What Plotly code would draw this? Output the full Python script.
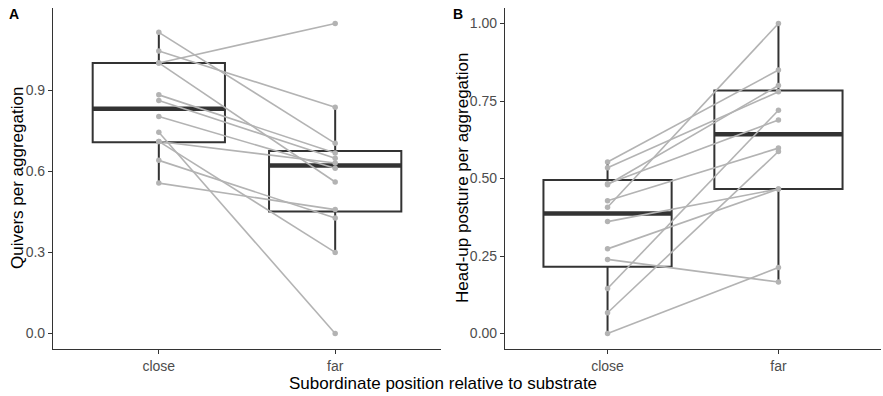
import plotly.graph_objects as go

# ---- data ----
categories = ["close", "far"]
cat_pos = [1, 2]

quiver_close = [1.0, 1.113, 1.044, 1.0, 0.882, 0.861, 0.802, 0.744, 0.71, 0.71, 0.64, 0.556]
quiver_far = [1.146, 0.703, 0.836, 0.56, 0.667, 0.648, 0.611, 0.0, 0.63, 0.30, 0.427, 0.458]

headup_close = [0.553, 0.535, 0.483, 0.48, 0.428, 0.407, 0.361, 0.273, 0.239, 0.145, 0.067, 0.0]
headup_far = [0.85, 0.78, 0.689, 0.80, 0.598, 1.0, 0.466, 0.466, 0.166, 0.72, 0.587, 0.213]

# box statistics (close, far)
quiver_q1 = [0.707, 0.451]
quiver_med = [0.831, 0.621]
quiver_q3 = [1.0, 0.675]
quiver_lo = [0.556, 0.30]
quiver_hi = [1.113, 0.836]

headup_q1 = [0.215, 0.466]
headup_med = [0.387, 0.643]
headup_q3 = [0.495, 0.784]
headup_lo = [0.0, 0.166]
headup_hi = [0.553, 1.0]

quiver_ticks = [0.0, 0.3, 0.6, 0.9]
quiver_ticklabels = ["0.0", "0.3", "0.6", "0.9"]
headup_ticks = [0.0, 0.25, 0.5, 0.75, 1.0]
headup_ticklabels = ["0.00", "0.25", "0.50", "0.75", "1.00"]

BOX_W = 0.75
DARK = "#333333"
GREY = "#b3b3b3"
FONT = "Liberation Sans, Arial, sans-serif"

fig = go.Figure()


def add_panel(xa, ya, close, far, q1, med, q3, lo, hi):
    for i, pos in enumerate(cat_pos):
        fig.add_trace(go.Box(
            x=[pos], q1=[q1[i]], median=[med[i]], q3=[q3[i]],
            lowerfence=[lo[i]], upperfence=[hi[i]],
            width=BOX_W, whiskerwidth=0,
            line=dict(color=DARK, width=2), fillcolor="white",
            boxpoints=False, showlegend=False, hoverinfo="skip",
            xaxis=xa, yaxis=ya))
        # thick median
        fig.add_trace(go.Scatter(
            x=[pos - BOX_W / 2, pos + BOX_W / 2], y=[med[i], med[i]],
            mode="lines", line=dict(color=DARK, width=4.5),
            showlegend=False, hoverinfo="skip", xaxis=xa, yaxis=ya))
    for c, f in zip(close, far):
        fig.add_trace(go.Scatter(
            x=cat_pos, y=[c, f], mode="lines+markers",
            line=dict(color=GREY, width=1.6),
            marker=dict(color=GREY, size=5.5),
            showlegend=False, hoverinfo="skip", xaxis=xa, yaxis=ya))


add_panel("x", "y", quiver_close, quiver_far, quiver_q1, quiver_med, quiver_q3, quiver_lo, quiver_hi)
add_panel("x2", "y2", headup_close, headup_far, headup_q1, headup_med, headup_q3, headup_lo, headup_hi)

W, H = 883, 396
yd = [(H - 349) / H, (H - 8) / H]

axis_common = dict(showgrid=False, zeroline=False, showline=True, linecolor=DARK, linewidth=1.2,
                   ticks="outside", ticklen=4, tickcolor=DARK, tickwidth=1.2,
                   tickfont=dict(family=FONT, size=14, color="#4d4d4d"))

fig.update_layout(
    width=W, height=H,
    margin=dict(l=0, r=0, t=0, b=0),
    paper_bgcolor="white", plot_bgcolor="white",
    xaxis=dict(domain=[53 / W, 441 / W], range=[0.4, 2.6], tickvals=cat_pos, ticktext=categories,
               anchor="y", **axis_common),
    yaxis=dict(domain=yd, range=[-0.057, 1.203], tickvals=quiver_ticks, ticktext=quiver_ticklabels,
               anchor="x", **axis_common),
    xaxis2=dict(domain=[505 / W, 881 / W], range=[0.4, 2.6], tickvals=cat_pos, ticktext=categories,
                anchor="y2", **axis_common),
    yaxis2=dict(domain=yd, range=[-0.05, 1.05], tickvals=headup_ticks, ticktext=headup_ticklabels,
                anchor="x2", **axis_common),
    font=dict(family=FONT),
)

title_font = dict(family=FONT, size=17, color="black")
fig.add_annotation(text="Quivers per aggregation", x=17 / W, y=(H - 178) / H, xref="paper", yref="paper",
                   textangle=-90, showarrow=False, font=title_font, xanchor="center", yanchor="middle")
fig.add_annotation(text="Head-up posture per aggregation", x=462 / W, y=(H - 178) / H, xref="paper", yref="paper",
                   textangle=-90, showarrow=False, font=title_font, xanchor="center", yanchor="middle")
fig.add_annotation(text="Subordinate position relative to substrate", x=443 / W, y=(H - 383) / H,
                   xref="paper", yref="paper", showarrow=False, font=title_font,
                   xanchor="center", yanchor="middle")
lab_font = dict(family=FONT, size=14, color="black")
fig.add_annotation(text="<b>A</b>", x=14 / W, y=(H - 14) / H, xref="paper", yref="paper",
                   showarrow=False, font=lab_font, xanchor="center", yanchor="middle")
fig.add_annotation(text="<b>B</b>", x=458 / W, y=(H - 14) / H, xref="paper", yref="paper",
                   showarrow=False, font=lab_font, xanchor="center", yanchor="middle")

fig.write_html("out.html", config={"displayModeBar": False},
               post_script="document.body.style.margin='0';")
